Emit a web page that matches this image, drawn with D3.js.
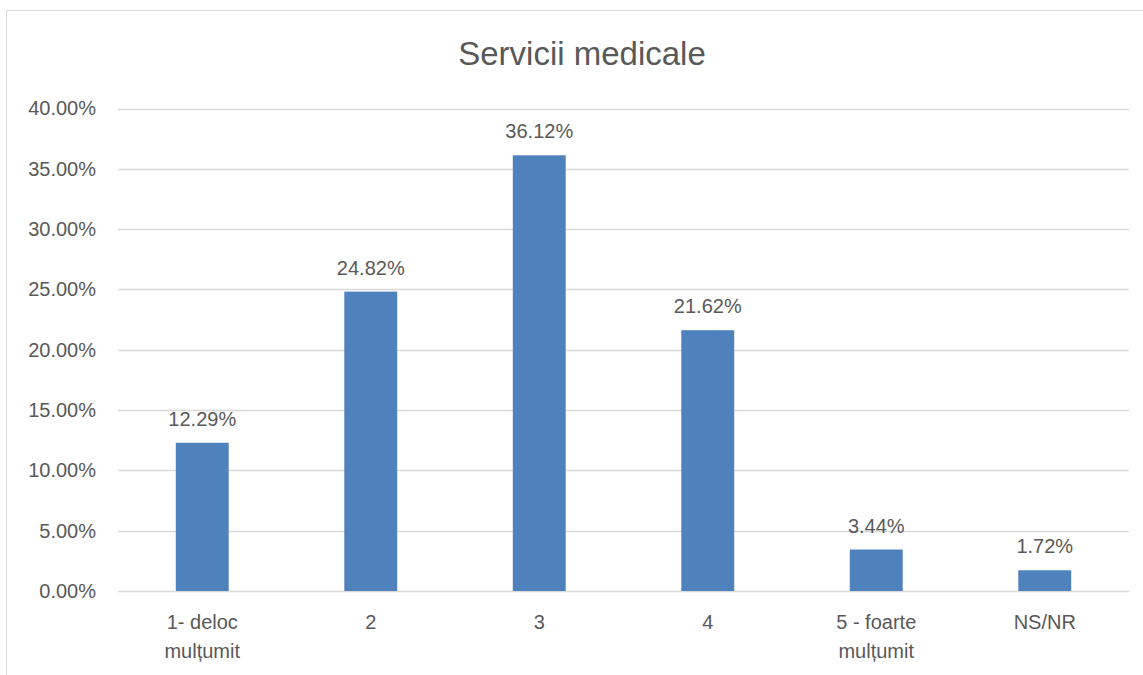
<!DOCTYPE html>
<html>
<head>
<meta charset="utf-8">
<script src="https://cdn.jsdelivr.net/npm/d3@7"></script>
<style>
  body { margin: 0; background: #fff; }
  text { font-family: "Liberation Sans", Arial, sans-serif; fill: #595959; }
</style>
</head>
<body>
<div id="chart"></div>
<script>
var categories = ["1- deloc\nmulțumit", "2", "3", "4", "5 - foarte\nmulțumit", "NS/NR"];
var values = [12.29, 24.82, 36.12, 21.62, 3.44, 1.72];
var tickValues = [0, 5, 10, 15, 20, 25, 30, 35, 40];
var title = "Servicii medicale";

var width = 1143, height = 675;
var margin = {top: 108.5, right: 14, bottom: 84, left: 118};

var svg = d3.select("#chart").append("svg")
    .attr("width", width)
    .attr("height", height);

// chart frame (only left/top visible in the screenshot)
svg.append("rect")
    .attr("x", 6.5).attr("y", 10.5)
    .attr("width", 1160).attr("height", 700)
    .attr("fill", "none")
    .attr("stroke", "#d9d9d9")
    .attr("stroke-width", 1);

var x = d3.scaleBand()
    .domain(categories)
    .range([margin.left, width - margin.right])
    .paddingInner(0.686)
    .paddingOuter(0.343);

var y = d3.scaleLinear()
    .domain([0, 40])
    .range([height - margin.bottom, margin.top]);

// gridlines
svg.append("g")
    .selectAll("line")
    .data(tickValues)
    .join("line")
    .attr("x1", margin.left)
    .attr("x2", width - margin.right)
    .attr("y1", function (d) { return Math.round(y(d)) + 0.5; })
    .attr("y2", function (d) { return Math.round(y(d)) + 0.5; })
    .attr("stroke", "#d9d9d9")
    .attr("stroke-width", 1.3);

// y axis labels
var yAxis = d3.axisLeft(y)
    .tickValues(tickValues)
    .tickSize(0)
    .tickPadding(22)
    .tickFormat(function (d) { return d.toFixed(2) + "%"; });

var gy = svg.append("g")
    .attr("transform", "translate(" + margin.left + ",0)")
    .call(yAxis);
gy.select(".domain").remove();
gy.selectAll("text")
    .style("font-size", "20px")
    .style("font-family", "Liberation Sans, Arial, sans-serif")
    .attr("fill", "#595959");

// bars
svg.append("g")
    .selectAll("rect")
    .data(values)
    .join("rect")
    .attr("x", function (d, i) { return x(categories[i]); })
    .attr("y", function (d) { return y(d); })
    .attr("width", x.bandwidth())
    .attr("height", function (d) { return y(0) - y(d); })
    .attr("fill", "#4f81bd");

// data labels
svg.append("g")
    .selectAll("text")
    .data(values)
    .join("text")
    .attr("x", function (d, i) { return x(categories[i]) + x.bandwidth() / 2; })
    .attr("y", function (d) { return y(d) - 17; })
    .attr("text-anchor", "middle")
    .style("font-size", "20px")
    .text(function (d) { return d.toFixed(2) + "%"; });

// x axis labels (wrapped)
var xl = svg.append("g")
    .selectAll("text")
    .data(categories)
    .join("text")
    .attr("x", function (d) { return x(d) + x.bandwidth() / 2; })
    .attr("y", 629)
    .attr("text-anchor", "middle")
    .style("font-size", "20px");

xl.each(function (d) {
    var el = d3.select(this);
    var cx = el.attr("x");
    d.split("\n").forEach(function (line, j) {
        el.append("tspan")
            .attr("x", cx)
            .attr("dy", j === 0 ? 0 : 29)
            .text(line);
    });
});

// title
svg.append("text")
    .attr("x", 582)
    .attr("y", 65)
    .attr("text-anchor", "middle")
    .style("font-size", "33px")
    .text(title);
</script>
</body>
</html>
